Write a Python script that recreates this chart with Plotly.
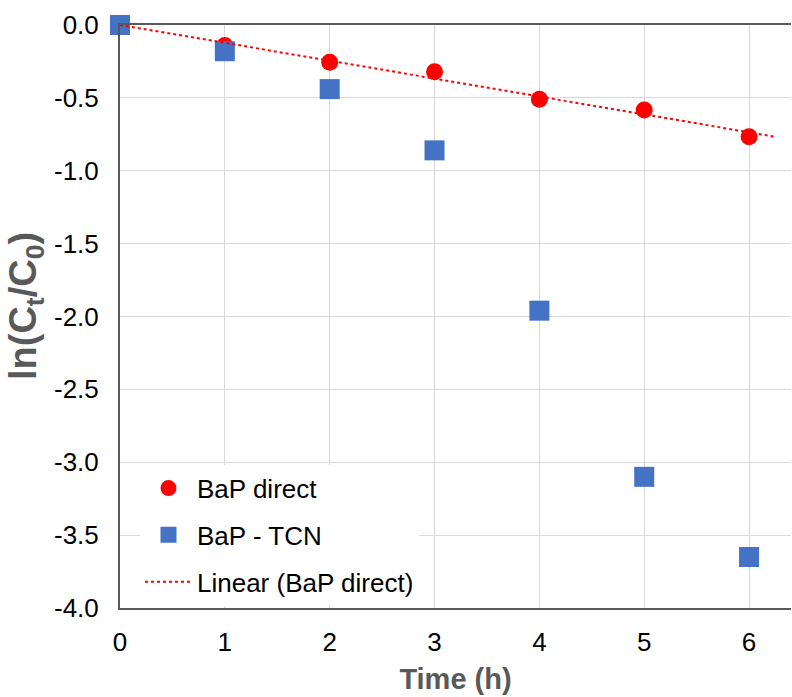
import numpy as np
import plotly.graph_objects as go

time_h = [0, 1, 2, 3, 4, 5, 6]
bap_direct = [0.0, -0.14, -0.255, -0.32, -0.51, -0.583, -0.766]
bap_tcn = [0.0, -0.18, -0.44, -0.86, -1.96, -3.10, -3.65]
y_ticks = [0.0, -0.5, -1.0, -1.5, -2.0, -2.5, -3.0, -3.5, -4.0]
x_ticks = [0, 1, 2, 3, 4, 5, 6]

slope, intercept = np.polyfit(time_h, bap_direct, 1)
trend_x = [0, 6.25]
trend_y = [intercept + slope * v for v in trend_x]

FONT = "Liberation Sans, Arial, sans-serif"

fig = go.Figure()
fig.add_trace(go.Scatter(
    x=time_h, y=bap_direct, mode="markers", name="BaP direct",
    legendgroup="a", cliponaxis=False,
    marker=dict(symbol="circle", size=17, color="#FF0000"),
))
fig.add_trace(go.Scatter(
    x=time_h, y=bap_tcn, mode="markers", name="BaP - TCN",
    legendgroup="b", cliponaxis=False,
    marker=dict(symbol="square", size=20, color="#4472C4",
                line=dict(width=0)),
))
fig.add_trace(go.Scatter(
    x=trend_x, y=trend_y, mode="lines", name="Linear (BaP direct)",
    legendgroup="c",
    line=dict(color="#FF0000", width=2, dash="dot"),
))

fig.update_layout(
    width=792, height=697,
    margin=dict(l=120, r=1, t=25, b=89),
    paper_bgcolor="white", plot_bgcolor="white",
    font=dict(family=FONT, size=26, color="black"),
    showlegend=True,
    legend=dict(
        x=0.0298, y=0.004, xanchor="left", yanchor="bottom",
        bgcolor="white", borderwidth=0,
        font=dict(family=FONT, size=26, color="black"),
        traceorder="grouped", tracegroupgap=10,
        itemwidth=47,
    ),
    shapes=[dict(type="rect", xref="paper", yref="y", x0=0, x1=0.05,
                 y0=-4, y1=-3.03, fillcolor="white", line=dict(width=0),
                 layer="between")],
)

fig.update_xaxes(
    range=[0, 6.4], tickvals=x_ticks, ticktext=[str(v) for v in x_ticks],
    showgrid=True, gridcolor="#D9D9D9", gridwidth=1,
    showline=True, linecolor="#595959", linewidth=2, mirror=True,
    zeroline=False, ticks="", ticklabelstandoff=10, automargin=False,
    title=dict(text="<b>Time (h)</b>", font=dict(family=FONT, size=29, color="#595959"),
               standoff=12),
)
fig.update_yaxes(
    range=[-4, 0], tickvals=y_ticks, ticktext=[f"{v:.1f}" for v in y_ticks],
    showgrid=True, gridcolor="#D9D9D9", gridwidth=1,
    showline=True, linecolor="#595959", linewidth=2, mirror=False,
    zeroline=False, ticks="", ticklabelstandoff=14, automargin=False,
    title=dict(text="<b>&nbsp;&nbsp;ln(C<sub>t</sub>/C<sub>0</sub>)</b>",
               font=dict(family=FONT, size=38, color="#595959"), standoff=6),
)

fig.write_html("out.html", config={"displayModeBar": False},
               post_script="document.body.style.margin='0px';")
